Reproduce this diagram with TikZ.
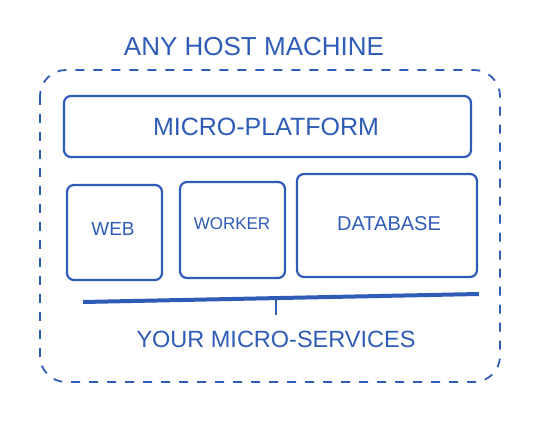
\documentclass[tikz,border=0pt]{standalone}
\usepackage{fontspec}
\setmainfont{Liberation Sans}
\definecolor{ink}{RGB}{46,92,182}
\begin{document}
\begin{tikzpicture}[x=1pt,y=-1pt,
  box/.style={draw=ink,line width=2.2pt,rounded corners=7pt},
  lbl/.style={text=ink,inner sep=0pt,anchor=center},
  host/.style={draw=ink,line width=1.8pt,dash pattern=on 9pt off 9pt,rounded corners=26pt}]
\fill[white] (0,0) rectangle (544,422);
\useasboundingbox (0,0) rectangle (544,422);
% title
\node[lbl,font=\fontsize{26}{30}\selectfont] (title) at (254,47) {ANY HOST MACHINE};
% host dashed
\draw[host] (40,70) rectangle (500,382);
% platform
\draw[box] (64,96) rectangle (471,157);
\node[lbl,font=\fontsize{25}{29}\selectfont] (plat) at (266,127) {MICRO-PLATFORM};
% services
\draw[box] (67,185) rectangle (162,280);
\node[lbl,font=\fontsize{19}{22}\selectfont] (web) at (113,229) {WEB};
\draw[box] (180,182) rectangle (285,278);
\node[lbl,font=\fontsize{17}{20}\selectfont] (worker) at (232,224) {WORKER};
\draw[box] (297,174) rectangle (477,277);
\node[lbl,font=\fontsize{20}{24}\selectfont] (db) at (389,224) {DATABASE};
% bracket
\coordinate (bl) at (83,302);
\coordinate (br) at (479,294);
\coordinate (bm) at (276,298.5);
\coordinate (bt) at (276,315);
\draw[ink,line width=4pt] (bl) -- (br);
\draw[ink,line width=2.6pt] (bm) -- (bt);
\node[lbl,font=\fontsize{23.5}{28}\selectfont] (ms) at (276,339) {YOUR MICRO-SERVICES};
\end{tikzpicture}
\end{document}
